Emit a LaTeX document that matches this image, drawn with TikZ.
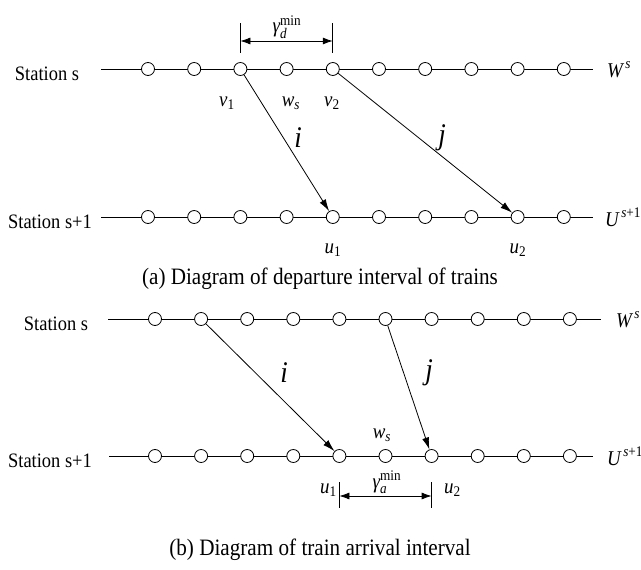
\documentclass[tikz,border=0pt]{standalone}
\usepackage{amsmath}
\usepackage{fontspec}
\setmainfont{Liberation Serif}[FakeStretch=0.9]
\usetikzlibrary{arrows.meta}

\begin{document}
\begin{tikzpicture}[x=1pt, y=-1pt,
    stop/.style={circle, draw, fill=white, minimum size=13pt, inner sep=0pt, line width=0.8pt},
    track/.style={line width=0.8pt},
    train/.style={line width=0.8pt, -{Latex[length=12pt,width=7pt]}},
    gap/.style={line width=0.8pt, {Latex[length=10pt,width=7pt]}-{Latex[length=10pt,width=7pt]}},
    station/.style={font=\fontsize{20.5}{24}\selectfont, anchor=base},
    lab/.style={font=\fontsize{21}{25}\selectfont, inner sep=0pt},
    big/.style={font=\fontsize{30}{34}\selectfont\itshape, inner sep=0pt},
    caption/.style={font=\fontsize{23.5}{28}\selectfont}]
  \useasboundingbox (0,0) rectangle (641,570);

  % (a) departure interval
  \coordinate (sa0) at (101,69);
  \coordinate (sa11) at (593,69);
  \coordinate (ta0) at (101,217);
  \coordinate (ta11) at (593,217);
  \draw[track] (sa0) -- (sa11);
  \draw[track] (ta0) -- (ta11);
  \foreach \k in {1,...,10} {
    \node[stop] (sa\k) at ({148+46.2*(\k-1)},69) {};
    \node[stop] (ta\k) at ({148+46.2*(\k-1)},217) {};
  }
  \node[station] (sta) at (47,80) {Station s};
  \node[station] (tta) at (50,228) {Station s+1};
  \node[lab, anchor=base west] (Wa) at (607,77) {$\textit{W}^{\,\textit{s}}$};
  \node[lab, anchor=base west] (Ua) at (605,226) {$\textit{U}^{\,\textit{s}\text{+1}}$};

  \node[lab, anchor=base] (v1) at (227,106) {$\textit{v}_{\text{1}}$};
  \node[lab, anchor=base] (wsa) at (291,106) {$\textit{w}_{\textit{s}}$};
  \node[lab, anchor=base] (v2) at (332,106) {$\textit{v}_{\text{2}}$};
  \node[lab, anchor=base] (u1a) at (333,253) {$\textit{u}_{\text{1}}$};
  \node[lab, anchor=base] (u2a) at (518,253) {$\textit{u}_{\text{2}}$};

  \draw[train] (sa3) -- (ta5);
  \draw[train] (sa5) -- (ta9);
  \node[big] (ia) at (298,138) {i};
  \node[big] (ja) at (442,138) {j};

  \draw[track] (sa3.center |- 0,23) -- (sa3.center |- 0,53);
  \draw[track] (sa5.center |- 0,23) -- (sa5.center |- 0,53);
  \draw[gap] (sa3.center |- 0,41) -- (sa5.center |- 0,41);
  \node[lab, anchor=south] (gda) at (287,39) {$\textit{γ}_{\textit{d}}^{\text{min}}$};

  \node[caption] (capa) at (320,279) {(a) Diagram of departure interval of trains};

  % (b) arrival interval
  \coordinate (sb0) at (108,319);
  \coordinate (sb11) at (601,319);
  \coordinate (tb0) at (109,456);
  \coordinate (tb11) at (593,456);
  \draw[track] (sb0) -- (sb11);
  \draw[track] (tb0) -- (tb11);
  \foreach \k in {1,...,10} {
    \node[stop] (sb\k) at ({155+46.1*(\k-1)},319) {};
    \node[stop] (tb\k) at ({155+46.1*(\k-1)},456) {};
  }
  \node[station] (stb) at (56,330) {Station s};
  \node[station] (ttb) at (50,467) {Station s+1};
  \node[lab, anchor=base west] (Wb) at (616,327) {$\textit{W}^{\,\textit{s}}$};
  \node[lab, anchor=base west] (Ub) at (607,465) {$\textit{U}^{\,\textit{s}\text{+1}}$};

  \draw[train] (sb2) -- (tb5);
  \draw[train] (sb6) -- (tb7);
  \node[big] (ib) at (284,373) {i};
  \node[big] (jb) at (429,373) {j};
  \node[lab, anchor=base] (wsb) at (382,438) {$\textit{w}_{\textit{s}}$};

  \draw[track] (tb5.center |- 0,482) -- (tb5.center |- 0,508);
  \draw[track] (tb7.center |- 0,482) -- (tb7.center |- 0,508);
  \draw[gap] (tb5.center |- 0,496) -- (tb7.center |- 0,496);
  \node[lab, anchor=south] (gab) at (387,494) {$\textit{γ}_{\textit{a}}^{\text{min}}$};
  \node[lab, anchor=base east] (u1b) at (337,493) {$\textit{u}_{\text{1}}$};
  \node[lab, anchor=base west] (u2b) at (444,493) {$\textit{u}_{\text{2}}$};

  \node[caption] (capb) at (320,550) {(b) Diagram of train arrival interval};
\end{tikzpicture}
\end{document}
